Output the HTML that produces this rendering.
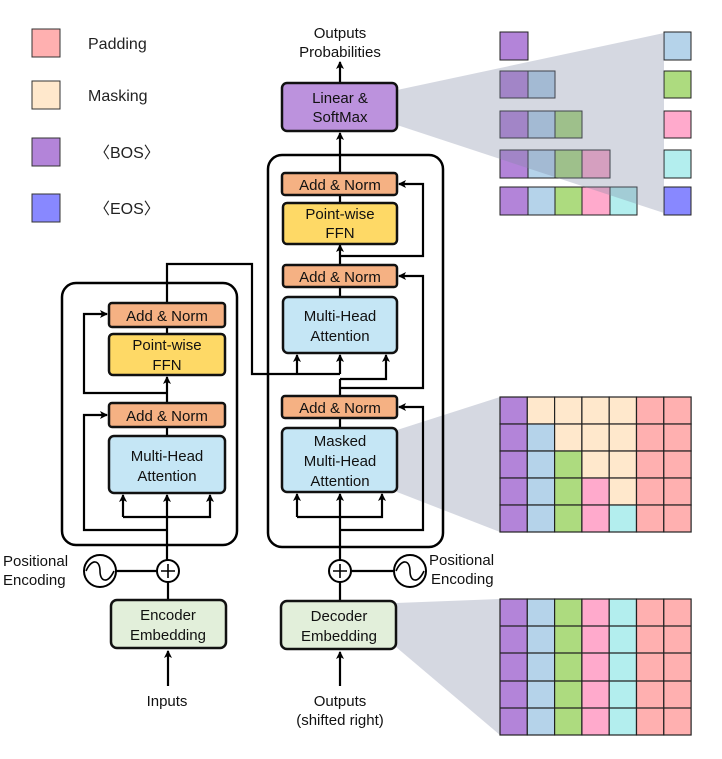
<!DOCTYPE html>
<html><head><meta charset="utf-8"><style>
body{margin:0;background:#fff}
svg{display:block}
text{font-family:"Liberation Sans",Arial,sans-serif;fill:#111}
.lg{font-family:"Liberation Sans","Noto Sans CJK SC",sans-serif;font-size:16px;fill:#222}
</style></head><body>
<svg width="722" height="759" viewBox="0 0 722 759" xmlns="http://www.w3.org/2000/svg">
<defs>
<marker id="a" markerWidth="8" markerHeight="8" refX="7" refY="4" orient="auto" markerUnits="userSpaceOnUse">
<path d="M0,0 L8,4 L0,8 L2,4 z" fill="#000"/></marker>
</defs>
<g stroke="#333" stroke-width="1">
<rect x="32" y="29" width="28" height="28" fill="#ffb0b0"/>
<rect x="32" y="81" width="28" height="28" fill="#ffe8cc"/>
<rect x="32" y="138" width="28" height="28" fill="#b384d9"/>
<rect x="32" y="194" width="28" height="28" fill="#8888ff"/>
</g>
<text class="lg" x="88" y="49">Padding</text>
<text class="lg" x="88" y="101">Masking</text>
<text class="lg" x="94" y="158">〈BOS〉</text>
<text class="lg" x="94" y="214">〈EOS〉</text>

<g stroke="#222" stroke-width="1">
<rect x="500" y="32" width="28" height="28" fill="#b384d9"/>
<rect x="500" y="71" width="28" height="27" fill="#b384d9"/><rect x="528" y="71" width="27" height="27" fill="#b5d3ea"/>
<rect x="500" y="111" width="28" height="27" fill="#b384d9"/><rect x="528" y="111" width="27" height="27" fill="#b5d3ea"/><rect x="555" y="111" width="27" height="27" fill="#addb7f"/>
<rect x="500" y="150" width="28" height="28" fill="#b384d9"/><rect x="528" y="150" width="27" height="28" fill="#b5d3ea"/><rect x="555" y="150" width="27" height="28" fill="#addb7f"/><rect x="582" y="150" width="28" height="28" fill="#ffaacc"/>
<rect x="500" y="187" width="28" height="28" fill="#b384d9"/><rect x="528" y="187" width="27" height="28" fill="#b5d3ea"/><rect x="555" y="187" width="27" height="28" fill="#addb7f"/><rect x="582" y="187" width="28" height="28" fill="#ffaacc"/><rect x="610" y="187" width="27" height="28" fill="#b3eeee"/>
<rect x="664" y="32" width="27" height="28" fill="#b5d3ea"/>
<rect x="664" y="71" width="27" height="27" fill="#addb7f"/>
<rect x="664" y="111" width="27" height="27" fill="#ffaacc"/>
<rect x="664" y="150" width="27" height="28" fill="#b3eeee"/>
<rect x="664" y="187" width="27" height="28" fill="#8888ff"/>
</g>
<polygon points="397,90 664,33 664,213 397,125" fill="#7f8aa3" opacity="0.33"/>

<polygon points="397,430 500,397 500,532 397,492" fill="#7f8aa3" opacity="0.33"/>
<polygon points="396,603 500,599 500,735 396,647" fill="#7f8aa3" opacity="0.33"/>
<g stroke="#222" stroke-width="1.2">
<g>
<rect x="500" y="397" width="27.3" height="27" fill="#b384d9"/><rect x="527.3" y="397" width="27.3" height="27" fill="#ffe8cc"/><rect x="554.6" y="397" width="27.3" height="27" fill="#ffe8cc"/><rect x="581.9" y="397" width="27.3" height="27" fill="#ffe8cc"/><rect x="609.2" y="397" width="27.3" height="27" fill="#ffe8cc"/><rect x="636.5" y="397" width="27.3" height="27" fill="#ffb0b0"/><rect x="663.8" y="397" width="27.3" height="27" fill="#ffb0b0"/>
<rect x="500" y="424" width="27.3" height="27" fill="#b384d9"/><rect x="527.3" y="424" width="27.3" height="27" fill="#b5d3ea"/><rect x="554.6" y="424" width="27.3" height="27" fill="#ffe8cc"/><rect x="581.9" y="424" width="27.3" height="27" fill="#ffe8cc"/><rect x="609.2" y="424" width="27.3" height="27" fill="#ffe8cc"/><rect x="636.5" y="424" width="27.3" height="27" fill="#ffb0b0"/><rect x="663.8" y="424" width="27.3" height="27" fill="#ffb0b0"/>
<rect x="500" y="451" width="27.3" height="27" fill="#b384d9"/><rect x="527.3" y="451" width="27.3" height="27" fill="#b5d3ea"/><rect x="554.6" y="451" width="27.3" height="27" fill="#addb7f"/><rect x="581.9" y="451" width="27.3" height="27" fill="#ffe8cc"/><rect x="609.2" y="451" width="27.3" height="27" fill="#ffe8cc"/><rect x="636.5" y="451" width="27.3" height="27" fill="#ffb0b0"/><rect x="663.8" y="451" width="27.3" height="27" fill="#ffb0b0"/>
<rect x="500" y="478" width="27.3" height="27" fill="#b384d9"/><rect x="527.3" y="478" width="27.3" height="27" fill="#b5d3ea"/><rect x="554.6" y="478" width="27.3" height="27" fill="#addb7f"/><rect x="581.9" y="478" width="27.3" height="27" fill="#ffaacc"/><rect x="609.2" y="478" width="27.3" height="27" fill="#ffe8cc"/><rect x="636.5" y="478" width="27.3" height="27" fill="#ffb0b0"/><rect x="663.8" y="478" width="27.3" height="27" fill="#ffb0b0"/>
<rect x="500" y="505" width="27.3" height="27" fill="#b384d9"/><rect x="527.3" y="505" width="27.3" height="27" fill="#b5d3ea"/><rect x="554.6" y="505" width="27.3" height="27" fill="#addb7f"/><rect x="581.9" y="505" width="27.3" height="27" fill="#ffaacc"/><rect x="609.2" y="505" width="27.3" height="27" fill="#b3eeee"/><rect x="636.5" y="505" width="27.3" height="27" fill="#ffb0b0"/><rect x="663.8" y="505" width="27.3" height="27" fill="#ffb0b0"/>
</g>
<g>
<rect x="500" y="599" width="27.3" height="136" fill="#b384d9"/><rect x="527.3" y="599" width="27.3" height="136" fill="#b5d3ea"/><rect x="554.6" y="599" width="27.3" height="136" fill="#addb7f"/><rect x="581.9" y="599" width="27.3" height="136" fill="#ffaacc"/><rect x="609.2" y="599" width="27.3" height="136" fill="#b3eeee"/><rect x="636.5" y="599" width="27.3" height="136" fill="#ffb0b0"/><rect x="663.8" y="599" width="27.3" height="136" fill="#ffb0b0"/>
<line x1="500" y1="626" x2="691" y2="626"/><line x1="500" y1="653" x2="691" y2="653"/><line x1="500" y1="681" x2="691" y2="681"/><line x1="500" y1="708" x2="691" y2="708"/>
</g>
</g>

<g fill="none" stroke="#000" stroke-width="2.5">
<rect x="62" y="283" width="175" height="262" rx="14"/>
<rect x="268" y="155" width="175" height="392" rx="14"/>
</g>

<g fill="none" stroke="#000" stroke-width="2.2">
<line x1="340" y1="173" x2="340" y2="133" marker-end="url(#a)"/>
<line x1="340" y1="83" x2="340" y2="62" marker-end="url(#a)"/>
<line x1="340" y1="195" x2="340" y2="203"/>
<line x1="340" y1="265" x2="340" y2="245" marker-end="url(#a)"/>
<polyline points="340,256 423,256 423,184 399,184" marker-end="url(#a)"/>
<line x1="340" y1="287" x2="340" y2="297"/>
<line x1="340" y1="396" x2="340" y2="379"/>
<polyline points="340,388 423,388 423,276 399,276" marker-end="url(#a)"/>
<polyline points="340,379 386,379 386,355" marker-end="url(#a)"/>
<polyline points="167,303 167,264 252,264 252,374 340,374"/>
<line x1="340" y1="374" x2="340" y2="355" marker-end="url(#a)"/>
<polyline points="297,374 297,355" marker-end="url(#a)"/>
<line x1="340" y1="418" x2="340" y2="428"/>
<line x1="340" y1="560" x2="340" y2="494" marker-end="url(#a)"/>
<polyline points="297,517 297,494" marker-end="url(#a)"/>
<polyline points="297,517 382,517 382,494" marker-end="url(#a)"/>
<polyline points="340,530 423,530 423,407 399,407" marker-end="url(#a)"/>
<line x1="340" y1="582" x2="340" y2="601"/>
<line x1="351" y1="571" x2="394" y2="571"/>
<line x1="340" y1="686" x2="340" y2="652" marker-end="url(#a)"/>
<line x1="167" y1="327" x2="167" y2="334"/>
<line x1="167" y1="403" x2="167" y2="377" marker-end="url(#a)"/>
<polyline points="167,393 84,393 84,314 107,314" marker-end="url(#a)"/>
<line x1="167" y1="427" x2="167" y2="436"/>
<line x1="167" y1="560" x2="167" y2="495" marker-end="url(#a)"/>
<polyline points="123,517 123,495" marker-end="url(#a)"/>
<polyline points="123,517 210,517 210,495" marker-end="url(#a)"/>
<polyline points="167,530 84,530 84,415 107,415" marker-end="url(#a)"/>
<line x1="168" y1="582" x2="168" y2="600"/>
<line x1="116" y1="571" x2="157" y2="571"/>
<line x1="168" y1="686" x2="168" y2="651" marker-end="url(#a)"/>
</g>

<g fill="#fff" stroke="#000" stroke-width="2">
<circle cx="168" cy="571" r="11"/><circle cx="340" cy="571" r="11"/>
<circle cx="100" cy="571" r="16"/><circle cx="410" cy="571" r="16"/>
</g>
<g fill="none" stroke="#000" stroke-width="1.6">
<path d="M161,571 h14 M168,564 v14 M333,571 h14 M340,564 v14"/>
<path d="M86,571 C92,558 100,560 100,571 C100,582 108,584 114,571"/>
<path d="M396,571 C402,558 410,560 410,571 C410,582 418,584 424,571"/>
</g>

<g stroke="#111" stroke-width="2.5">
<rect x="282" y="83" width="115" height="48" rx="5" fill="#bc92dd"/>
<rect x="282" y="173" width="115" height="22" rx="3" fill="#f5b183"/>
<rect x="283" y="203" width="114" height="41" rx="4" fill="#fed966"/>
<rect x="283" y="265" width="114" height="22" rx="3" fill="#f5b183"/>
<rect x="283" y="297" width="114" height="56" rx="5" fill="#c5e6f5"/>
<rect x="282" y="396" width="115" height="22" rx="3" fill="#f5b183"/>
<rect x="282" y="428" width="115" height="64" rx="5" fill="#c5e6f5"/>
<rect x="281" y="601" width="115" height="48" rx="6" fill="#e2efda"/>
<rect x="109" y="303" width="116" height="24" rx="3" fill="#f5b183"/>
<rect x="109" y="334" width="116" height="41" rx="4" fill="#fed966"/>
<rect x="109" y="403" width="116" height="24" rx="3" fill="#f5b183"/>
<rect x="109" y="436" width="116" height="57" rx="5" fill="#c5e6f5"/>
<rect x="111" y="600" width="115" height="48" rx="6" fill="#e2efda"/>
</g>

<g font-size="15" text-anchor="middle">
<text x="340" y="103">Linear &amp;</text><text x="340" y="122">SoftMax</text>
<text x="340" y="190">Add &amp; Norm</text>
<text x="340" y="219">Point-wise</text><text x="340" y="238">FFN</text>
<text x="340" y="282">Add &amp; Norm</text>
<text x="340" y="321">Multi-Head</text><text x="340" y="341">Attention</text>
<text x="340" y="413">Add &amp; Norm</text>
<text x="340" y="446">Masked</text><text x="340" y="466">Multi-Head</text><text x="340" y="486">Attention</text>
<text x="339" y="621">Decoder</text><text x="339" y="641">Embedding</text>
<text x="167" y="321">Add &amp; Norm</text>
<text x="167" y="350">Point-wise</text><text x="167" y="370">FFN</text>
<text x="167" y="421">Add &amp; Norm</text>
<text x="167" y="461">Multi-Head</text><text x="167" y="481">Attention</text>
<text x="168" y="620">Encoder</text><text x="168" y="640">Embedding</text>
<text x="167" y="706">Inputs</text>
<text x="340" y="706">Outputs</text><text x="340" y="725">(shifted right)</text>
<text x="340" y="38">Outputs</text><text x="340" y="57">Probabilities</text>
</g>
<g font-size="15">
<text x="3" y="566">Positional</text><text x="3" y="585">Encoding</text>
<text x="429" y="565">Positional</text><text x="431" y="584">Encoding</text>
</g>
</svg>
</body></html>
